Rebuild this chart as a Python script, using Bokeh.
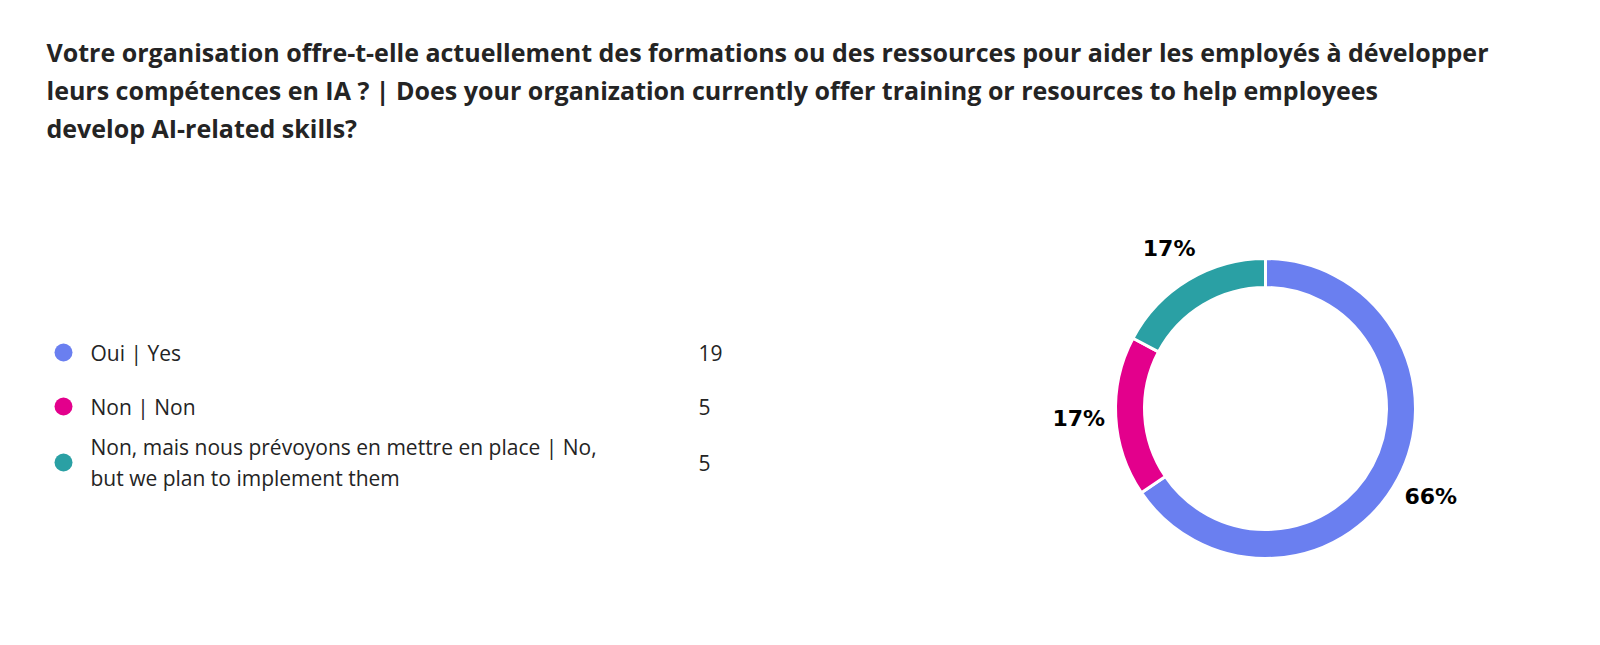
import math
from bokeh.plotting import figure
from bokeh.models import Range1d, ColumnDataSource
from bokeh.core.properties import value
from bokeh.embed import file_html
from bokeh.resources import INLINE

# ---- data ----
title_lines = [
    "Votre organisation offre-t-elle actuellement des formations ou des ressources pour aider les employés à développer",
    "leurs compétences en IA ? | Does your organization currently offer training or resources to help employees",
    "develop AI-related skills?",
]
categories = [
    "Oui | Yes",
    "Non | Non",
    "Non, mais nous prévoyons en mettre en place | No,\nbut we plan to implement them",
]
counts = [19, 5, 5]
colors = ["#6a7ff0", "#e3008c", "#2aa0a4"]

# ---- layout (screenshot pixel coords; data y = H - y) ----
H = 645
def py(y):
    return H - y

p = figure(width=1584, height=629, output_backend="svg", toolbar_location=None,
           x_range=Range1d(0, 1584), y_range=Range1d(16, 645), min_border=0)
p.axis.visible = False
p.grid.visible = False
p.outline_line_color = None
p.background_fill_color = "white"
p.border_fill_color = "white"

# title
tb = [51, 89, 127]
p.text(x=[46] * len(title_lines), y=[py(b) for b in tb], text=title_lines,
       text_font=value("Open Sans"), text_font_style="bold", text_font_size="25px",
       text_color="#242424", text_baseline="alphabetic", text_align="left")

# legend
row_y = [352, 406, 462]
p.scatter(x=[63] * 3, y=[py(v) for v in row_y], size=18, color=colors, line_color=None)
p.text(x=[90] * 3, y=[py(v) for v in row_y], text=categories,
       text_font=value("Open Sans"), text_font_size="21px", text_color="#242424",
       text_baseline="middle", text_align="left", text_line_height=1.1)
p.text(x=[698] * 3, y=[py(v) for v in row_y], text=[str(c) for c in counts],
       text_font=value("Open Sans"), text_font_size="21px", text_color="#242424",
       text_baseline="middle", text_align="left")

# donut
cx, cy = 1265, py(408)
r_out, r_in, r_lab = 150, 121, 187
total = sum(counts)
starts, ends, lx, ly, labels = [], [], [], [], []
acc = 0
for c in counts:
    a0 = acc / total
    a1 = (acc + c) / total
    starts.append(math.pi / 2 - 2 * math.pi * a0)
    ends.append(math.pi / 2 - 2 * math.pi * a1)
    mid = math.pi / 2 - 2 * math.pi * (a0 + a1) / 2
    lx.append(cx + r_lab * math.cos(mid))
    ly.append(cy + r_lab * math.sin(mid))
    labels.append(f"{round(100 * c / total)}%")
    acc += c

src = ColumnDataSource(dict(start=starts, end=ends, color=colors))
p.annular_wedge(x=cx, y=cy, inner_radius=r_in, outer_radius=r_out,
                start_angle="start", end_angle="end", direction="clock",
                fill_color="color", line_color="white", line_width=3, source=src)
p.text(x=lx, y=ly, text=labels, text_font=value("DejaVu Sans"), text_font_style="bold",
       text_font_size="22px", text_color="#000000", text_align="center",
       text_baseline="middle")

open("out.html", "w").write(file_html(p, INLINE))
